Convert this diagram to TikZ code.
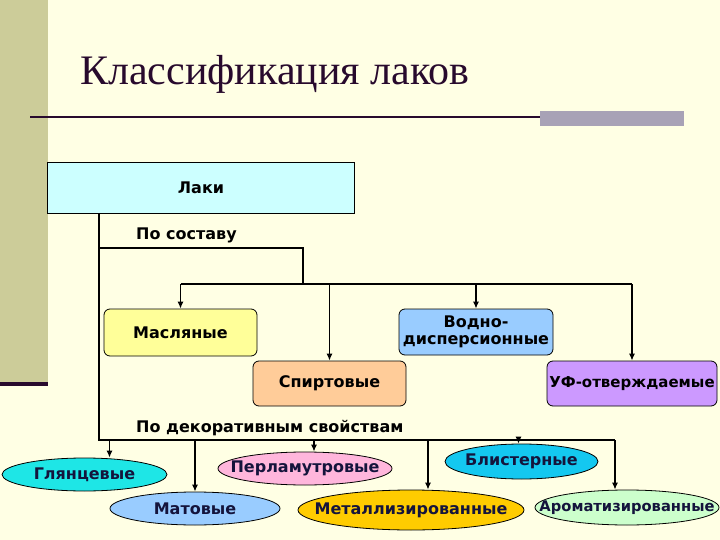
\documentclass[tikz,border=0pt]{standalone}
\usepackage{fontspec}
\setmainfont{Liberation Serif}
\newfontfamily\boxfont{DejaVu Sans}
\usetikzlibrary{shapes.geometric,arrows.meta}

\definecolor{cream}{RGB}{255,255,228}
\definecolor{khaki}{RGB}{204,204,153}
\definecolor{plum}{RGB}{40,10,45}
\definecolor{greybar}{RGB}{168,162,182}
\definecolor{navy}{RGB}{20,20,60}
\definecolor{lakfill}{RGB}{204,255,255}
\definecolor{masfill}{RGB}{255,255,153}
\definecolor{vodfill}{RGB}{153,204,255}
\definecolor{spifill}{RGB}{255,204,153}
\definecolor{uffill}{RGB}{204,153,255}
\definecolor{glfill}{RGB}{30,230,230}
\definecolor{matfill}{RGB}{153,204,255}
\definecolor{perfill}{RGB}{255,182,220}
\definecolor{blifill}{RGB}{20,200,240}
\definecolor{metfill}{RGB}{255,204,0}
\definecolor{arofill}{RGB}{204,255,204}

\begin{document}
\begin{tikzpicture}[x=1pt,y=-1pt,
  conn/.style={line width=1.2pt},
  arr/.style={conn,-{Latex[length=7pt,width=6pt]}},
  lbl/.style={anchor=west,inner sep=0,font=\boxfont\bfseries\fontsize{16}{19}\selectfont},
  cbox/.style={draw,rounded corners=6pt,line width=0.8pt,inner sep=0,align=center,
    font=\boxfont\bfseries\fontsize{16}{17}\selectfont},
  oval/.style={ellipse,draw,line width=0.8pt,inner xsep=-40pt,inner ysep=-12pt,text=navy,
    font=\boxfont\bfseries\fontsize{16}{18}\selectfont}]
  \fill[cream] (0,0) rectangle (720,540);
  \useasboundingbox (0,0) rectangle (720,540);
  % side strip and title rule
  \fill[khaki] (0,0) rectangle (48,382);
  \fill[plum] (0,382) rectangle (48,386);
  \fill[greybar] (540,111) rectangle (684,126);
  \draw[plum,line width=2.5pt] (30,117) -- (540,117);
  \node[anchor=base west,inner sep=0,text=plum,font=\fontsize{42}{48}\selectfont]
    (title) at (80,85) {Классификация лаков};

  % root
  \node[draw,line width=0.8pt,fill=lakfill,minimum width=307pt,minimum height=51pt,
    font=\boxfont\bfseries\fontsize{16}{19}\selectfont] (lak) at (201,188) {Лаки};

  % by composition
  \node[lbl] (sostav) at (136,235) {По составу};
  \node[cbox,fill=masfill,minimum width=153pt,minimum height=47pt] (mas) at (180.5,332.5) {Масляные};
  \node[cbox,fill=vodfill,minimum width=154pt,minimum height=46pt] (vod) at (476,332)
    {Водно-\\дисперсионные};
  \node[cbox,fill=spifill,minimum width=153pt,minimum height=45pt] (spi) at (329.5,383.5) {Спиртовые};
  \node[cbox,fill=uffill,minimum width=170pt,minimum height=45pt,
    font=\boxfont\bfseries\fontsize{15}{17}\selectfont] (uf) at (632,383.5) {УФ-отверждаемые};

  % by decorative properties
  \node[lbl] (dekor) at (136,428) {По декоративным свойствам};
  \node[oval,fill=glfill,minimum width=165pt,minimum height=33pt] (gl) at (84.5,474.5) {Глянцевые};
  \node[oval,fill=matfill,minimum width=170pt,minimum height=33pt] (mat) at (195,508.5) {Матовые};
  \node[oval,fill=perfill,minimum width=174pt,minimum height=33pt] (per) at (305,468.5) {Перламутровые};
  \node[oval,fill=blifill,minimum width=153pt,minimum height=35pt] (bli) at (521.5,461.5) {Блистерные};
  \node[oval,fill=metfill,minimum width=226pt,minimum height=40pt] (met) at (411,510) {Металлизированные};
  \node[oval,fill=arofill,minimum width=184pt,minimum height=35pt,
    font=\boxfont\bfseries\fontsize{14.7}{18}\selectfont] (aro) at (627,507.5) {Ароматизированные};

  % tree lines
  \coordinate (root) at (99,213);
  \coordinate (fork1) at (99,248);
  \coordinate (fork2) at (99,440);
  \coordinate (mid1) at (303,248);
  \coordinate (bus1) at (303,284);
  \coordinate (end2) at (615,440);
  \draw[conn] (root) -- (fork2) -- (end2);
  \draw[conn] (fork1) -- (mid1) -- (bus1);
  \draw[conn] (bus1 -| mas.north) -- (bus1 -| uf.north);
  \foreach \n in {mas,spi,vod,uf}
    \draw[arr] (bus1 -| \n.north) -- (\n.north);
  \foreach \n/\s in {gl/25,mat/0,per/9,met/17,bli/-3,aro/-12}
    \draw[arr] ([xshift=\s pt]\n.north |- fork2) -- ([xshift=\s pt]\n.north);
\end{tikzpicture}
\end{document}
